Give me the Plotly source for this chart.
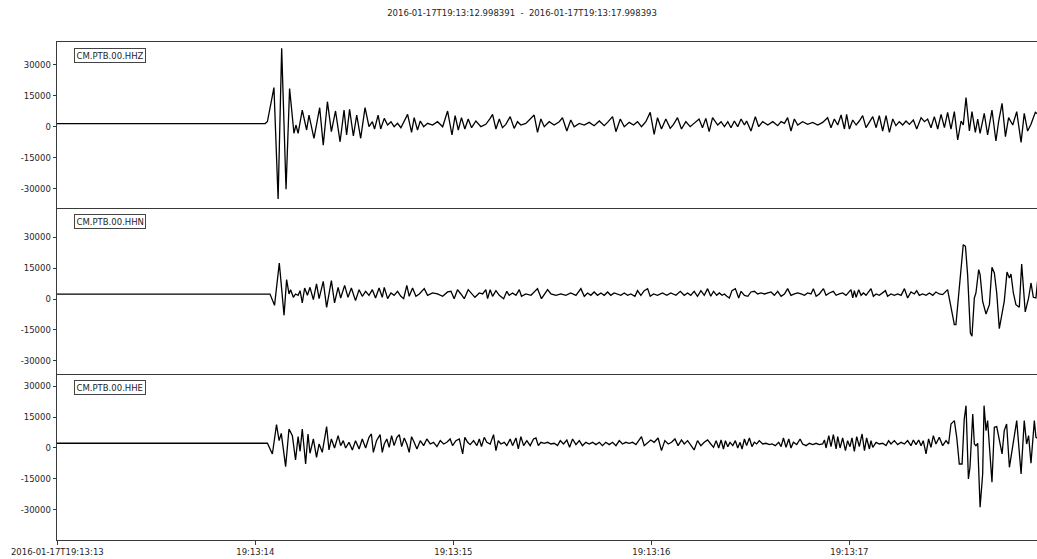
import plotly.graph_objects as go
from plotly.subplots import make_subplots

TITLE = "2016-01-17T19:13:12.998391  -  2016-01-17T19:13:17.998393"
channels = ["CM.PTB.00.HHZ", "CM.PTB.00.HHN", "CM.PTB.00.HHE"]

# time in ms after 2016-01-17T19:13:13, amplitude in counts
hhz_t_ms = [-2, 1050, 1061, 1094, 1115, 1133, 1155, 1173, 1195, 1205, 1216, 1237, 1259, 1271, 1296, 1325, 1343, 1364, 1384, 1405,
            1428, 1448, 1461, 1476, 1495, 1512, 1532, 1554, 1574, 1591, 1602, 1620, 1633,
            1651, 1668, 1685, 1701, 1718, 1735, 1752, 1769, 1789, 1802, 1819, 1833, 1850, 1870, 1895, 1920, 1946, 1971, 1993, 2009,
            2025, 2041, 2058, 2075, 2092, 2114, 2139, 2164, 2186, 2198, 2215, 2232, 2248, 2265, 2287, 2307, 2324, 2341, 2366, 2392,
            2408, 2425, 2442, 2459, 2484, 2509, 2535, 2551, 2573, 2593, 2610, 2636, 2661, 2686, 2711, 2737, 2762, 2782, 2804, 2821,
            2843, 2863, 2888, 2910, 2930, 2950, 2972, 2994, 3014, 3031, 3051, 3073, 3095, 3112, 3132, 3152, 3174, 3196, 3216, 3241,
            3258, 3275, 3292, 3309,
            3335, 3352, 3369, 3386, 3402, 3419, 3436,
            3453, 3470, 3481, 3503, 3525, 3542, 3562, 3588, 3613, 3638,
            3655, 3672, 3688, 3705, 3722, 3739, 3764, 3789, 3815, 3840,
            3865, 3890, 3907, 3924, 3941, 3958, 3975, 3986, 4000, 4017,
            4034, 4050, 4067, 4084, 4101, 4118, 4135, 4151, 4168, 4185,
            4202, 4219, 4235, 4252, 4269, 4286, 4303, 4323, 4340, 4362,
            4379, 4395, 4412, 4429, 4446, 4463, 4480, 4496, 4513, 4530,
            4547, 4564, 4575, 4589, 4606, 4619, 4636, 4648, 4660, 4681,
            4698, 4720, 4740, 4754, 4771, 4788, 4804, 4825, 4845, 4867,
            4883, 4900, 4917, 4939, 4998]
hhz_counts = [1500, 1500, 2500, 18900, -35000, 37900, -30300, 18500, -3200, 800, -3200, 8000, -1600, 5600, -5600, 9200, -8900, 12100, -2400, 7600,
              -7300, 8000, -4000, 8400, -4500, 5600, -5600, 9200, 0, 2400, -1100, 5600, -1100,
              4040, 810, 2430, 0, 1620, -480, 2430, 5980, -2730, 4360, -1600, 2750, 0, 1620, 810, 2430, 0, 7590, -4020, 5330,
              -1600, 4360, -1120, 3720, -480, 2750, 0, 1140, 4040, 5980, -1120, 3720, -480, 1140, 4850, -800, 2430, 810, 1620, 4040,
              5650, -2730, 3720, 0, 2430, 810, 2430, 4360, -2090, 3240, 0, 1620, 810, 2100, 490, 2750, 490, 2430, 4850, -2410,
              3720, 0, 2100, 810, 2430, 0, 2430, 6940, -3700, 4360, -1120, 3720, -800, 1140, 4360, -1120, 2430, 0, 1620, 3720,
              -480, 4040, -2410, 4360,
              810, 2430, 0, 2430, -480, 2750, 0,
              3720, 810, 2750, -2090, 4850, 0, 2430, 810, 2430, 490,
              2430, 1620, 4360, -2090, 3720, 810, 2430, 1140, 2100, 810,
              2100, 4360, -480, 3720, 810, 5650, -1120, 5980, -1120, 3240,
              810, 2750, 5330, -480, 2430, 4850, -480, 5330, -2090, 5330,
              -2730, 3720, 490, 2430, 810, 2750, 1140, 3240, -1120, 4360,
              2430, 3720, -480, 4850, -1120, 5980, -480, 6940, -1120, 7270,
              -6440, 2750, 810, 14040, -2090, 7270, -2730, 3720, -3220, 6460,
              -4020, 8070, -6930, 2750, 11300, -4830, 4360, 810, 7270, -7570,
              6460, -2090, 1140, 6940, 3000]

hhn_t_ms = [-2, 1074, 1097, 1121, 1145, 1158, 1170, 1178, 1192, 1203, 1216, 1226, 1237, 1249, 1263, 1276, 1293, 1309, 1322, 1343,
            1360, 1384, 1400, 1418, 1431, 1451, 1468, 1485, 1506, 1524, 1540, 1557, 1574, 1591, 1607, 1625, 1641,
            1651, 1668, 1685, 1701, 1718, 1735, 1749, 1765, 1777, 1794, 1811, 1828, 1853, 1870, 1895, 1920, 1946, 1971, 1988, 2004,
            2021, 2038, 2055, 2075, 2092, 2109, 2131, 2148, 2164, 2173, 2186, 2198, 2215, 2232, 2254, 2270, 2282, 2299, 2316, 2333,
            2344, 2366, 2392, 2408, 2425, 2445, 2459, 2476, 2493, 2518, 2543, 2568, 2593, 2619, 2644, 2661, 2678, 2694, 2711, 2728,
            2745, 2762, 2779, 2795, 2812, 2829, 2846, 2863, 2880, 2896, 2917, 2930, 2947, 2964, 2981, 2994, 3011, 3031, 3056, 3078,
            3098, 3124, 3146, 3166, 3183, 3199, 3216, 3233, 3250, 3267, 3284, 3300, 3314,
            3330, 3343, 3357, 3369, 3381, 3394,
            3407, 3424, 3441, 3453, 3470, 3487, 3503, 3520, 3537, 3554,
            3571, 3588, 3604, 3621, 3638, 3655, 3672, 3688, 3705, 3722,
            3739, 3756, 3773, 3789, 3806, 3818, 3832, 3848, 3869, 3882,
            3899, 3919, 3933, 3949, 3966, 3983, 4000, 4008, 4017, 4025,
            4034, 4047, 4059, 4071, 4084, 4097, 4109, 4121, 4135, 4151,
            4168, 4182, 4193, 4210, 4227, 4244, 4261, 4278, 4294, 4311,
            4328, 4340, 4353, 4370, 4387, 4404, 4421, 4437, 4454, 4471,
            4496, 4513, 4530, 4538, 4559, 4575, 4586, 4597, 4611, 4619,
            4631, 4639, 4653, 4660, 4673, 4690, 4707, 4720, 4732, 4744,
            4757, 4771, 4782, 4796, 4808, 4816, 4828, 4841, 4858, 4870,
            4878, 4888, 4905, 4917, 4929, 4942, 4951, 4998]
hhn_counts = [2400, 2400, -3060, 17430, -7900, 9370, 2430, 4520, 810, 2430, 1780, 4040, -1930, 5330, 1780, 5650, -320, 7270, 170, 8560,
              -4020, 8880, -1930, 5650, 490, 6620, 810, 5330, -800, 4520, 1300, 3720, 1780, 4520, 490, 5330, 810,
              5650, 170, 2910, 1780, 3720, 1300, 170, 6620, 1300, 5330, 1300, 2430, 5010, 1780, 2910, 2430, 1300, 3400, 3720, 170,
              4520, 2430, 170, 4520, 2430, 810, 2910, 2430, 4520, 170, 4520, 1300, 4040, 1780, 170, 3720, 1780, 2910, 1780, 4520,
              1300, 2430, 1780, 3400, 5010, 170, 2430, 4520, 2430, 1780, 2430, 1780, 2910, 1780, 5010, 1300, 2910, 1780, 3400, 1780,
              2910, 1780, 3400, 1780, 2910, 2430, 1780, 2910, 1780, 2430, 1300, 4040, 1780, 4040, 5010, 1300, 2430, 1780, 2910, 1780,
              2910, 1780, 3720, 1780, 2910, 1780, 3720, 1300, 4040, 1780, 5010, 1300, 3720,
              1780, 2910, 1780, 2430, 1300, 490,
              4040, 5010, 490, 3720, 1780, 1300, 3400, 3720, 2430, 2910,
              2430, 2910, 3400, 1780, 3720, 1300, 2430, 5010, 1780, 2430,
              2910, 2430, 1780, 2910, 2430, 5010, 1300, 2430, 5010, 1780,
              2910, 3720, 1780, 2430, 2910, 1780, 3400, 4520, 490, 4040,
              810, 4520, 1780, 2910, 1780, 3720, 5010, 1300, 2430, 1780,
              2910, 4040, 1300, 2430, 1780, 2430, 1780, 5010, 490, 3400,
              2430, 4040, 1780, 2430, 1780, 2910, 1780, 3400, 2430, 2100,
              4520, -4350, -12410, -12410, 8560, 26300, 25500, 11780, -16450, -18060,
              490, 2910, 14200, 11780, -1120, -7250, -2730, 15330, 12590, 2910,
              -14350, -6770, -1120, 13070, 10170, 12110, 2910, -2730, -4020, 16950,
              6940, -6280, 490, 7750, 810, 490, 9360, 5000]

hhe_t_ms = [-2, 1061, 1086, 1107, 1120, 1131, 1153, 1170, 1187, 1203, 1216, 1226, 1237, 1254, 1266, 1276, 1293, 1309, 1322, 1338,
            1360, 1372, 1384, 1400, 1418, 1431, 1444, 1456, 1473, 1490, 1506, 1524, 1540, 1557, 1574, 1586, 1596, 1612, 1630, 1641,
            1651, 1664, 1676, 1688, 1701, 1715, 1727, 1739, 1752, 1765, 1777, 1789, 1802, 1816, 1833, 1850, 1866, 1883, 1900, 1917,
            1934, 1951, 1967, 1984, 1996, 2013, 2030, 2047, 2058, 2072, 2085, 2102, 2119, 2131, 2142, 2156, 2169, 2186, 2203, 2215,
            2227, 2240, 2257, 2270, 2287, 2299, 2316, 2328, 2341, 2355, 2371, 2388, 2405, 2417, 2429, 2442, 2459, 2476, 2493, 2509,
            2526, 2540, 2556, 2573, 2587, 2602, 2619, 2636, 2652, 2669, 2686, 2703, 2720, 2737, 2753, 2770, 2787, 2804, 2821, 2838,
            2854, 2871, 2888, 2905, 2922, 2938, 2950, 2964, 2981, 2997, 3014, 3034, 3051, 3068, 3085, 3102, 3119, 3135, 3152, 3166,
            3183, 3199, 3216, 3233, 3250, 3267, 3284, 3300, 3314,
            3327, 3340, 3352, 3364, 3374, 3386,
            3397, 3411, 3424, 3436, 3448, 3458, 3470, 3481, 3495, 3508,
            3520, 3532, 3545, 3562, 3579, 3596, 3609, 3626, 3643, 3655,
            3667, 3680, 3694, 3705, 3717, 3734, 3751, 3764, 3781, 3798,
            3815, 3832, 3848, 3865, 3874, 3882, 3896, 3907, 3919, 3933,
            3941, 3953, 3966, 3980, 3991, 4003, 4013, 4025, 4037, 4050,
            4064, 4076, 4087, 4101, 4109, 4118, 4135, 4151, 4168, 4185,
            4198, 4210, 4227, 4244, 4261, 4278, 4294, 4311, 4323, 4336,
            4350, 4362, 4373, 4387, 4400, 4412, 4424, 4437, 4454, 4471,
            4488, 4501, 4513, 4530, 4542, 4555, 4569, 4580, 4589, 4601,
            4609, 4623, 4631, 4639, 4648, 4660, 4673, 4680, 4690, 4698,
            4720, 4732, 4744, 4757, 4771, 4782, 4794, 4808, 4828, 4845,
            4867, 4883, 4895, 4905, 4917, 4934, 4942, 4998]
hhe_counts = [2300, 2300, -2900, 11300, 3560, 7100, -9020, 9200, 6000, -5800, 5490, -1600, 9200, -7740, 6780, -2570, 4360, -4510, 1940, -2090,
              10330, -960, 4360, 0, 5980, 1140, 3560, 0, 2750, -960, 3560, -480, 4360, 0, 5170, 6780, -2090, 3560, 6460, -2090,
              1940, 4360, 330, 5980, 1140, 5170, 6460, 650, 4850, 1940, -2090, 5490, 2750, -480, 3560, 1140, 4360, 1940, 2750, 650,
              3560, 1940, 2750, 4360, 1140, 3560, 4360, -2900, 5170, 2750, 1620, 3560, 1140, 4360, 650, 5170, 2750, 1940, 6460, -1280,
              3560, 1940, 2750, 1140, 4360, 1140, 4850, -480, 5490, 1140, 3560, 1140, 4360, 4850, 1140, 2750, 2270, 2750, 1940, 2270,
              1140, 3560, 1940, 3880, 330, 4360, 1620, 3560, 1140, 2750, 1940, 2750, 1620, 2750, 1140, 2750, 1620, 2750, 1140, 3560,
              1940, 2750, 2270, 2750, 1620, 3560, 5490, 1140, 2750, 3880, 2750, 4850, -1280, 3560, 1940, 2750, 4360, 1140, 3880, 1940,
              3560, 1140, -960, 3560, 1140, 2750, 3880, 1940, 330,
              3560, 0, 3880, -480, 3560, 650,
              2750, 1140, 3560, 0, 2750, -480, 4360, 1140, 4850, 650,
              2750, 1940, 3560, 1940, 2270, 1620, 1940, 1140, 2750, 650,
              4850, 330, 4360, 0, 2750, 1620, 4360, 1940, 1140, 2270,
              1620, 2270, 1620, 1940, 3880, 0, 5980, 650, 6460, -480,
              5490, 0, 4850, -1280, 3560, 650, 4850, -1600, 5490, 650,
              6780, -1280, 4850, -480, 3560, 330, 2750, 1940, 2270, 1140,
              3560, 1940, 3560, 1620, 2750, 1940, 3560, 1140, 3880, 1620,
              3880, 1140, 3560, -2900, 4360, 330, 5980, 1940, 5170, 1140,
              3560, 1940, 11620, 13230, 5170, -7740, -7740, 14040, 20490, -15000,
              -9350, 16460, 1940, 1140, 2270, -28700, -12570, 20490, 8400, 13230,
              -16610, 10010, 10330, 3560, -2900, 8400, 11620, -9350, 3560, 13230,
              -12570, 13230, 1940, 5980, -7410, 13230, 5170, 2000]

traces_t = [hhz_t_ms, hhn_t_ms, hhe_t_ms]
traces_v = [hhz_counts, hhn_counts, hhe_counts]
y_ranges = [[-39350, 40990], [-36300, 44040], [-44530, 35810]]
y_ticks = [-30000, -15000, 0, 15000, 30000]
x_tick_sec = [0, 1, 2, 3, 4]
x_tick_text = ["2016-01-17T19:13:13", "19:13:14", "19:13:15", "19:13:16", "19:13:17"]

FONT = "DejaVu Sans"
TXT = "#262626"
SPINE = "#3a3a3a"
FS = 8.5

fig = make_subplots(rows=3, cols=1, shared_xaxes=True, vertical_spacing=0)
for i in range(3):
    pairs = sorted(zip(traces_t[i], traces_v[i]))
    xs = [p[0] / 1000.0 for p in pairs]
    ys = [p[1] for p in pairs]
    fig.add_trace(go.Scatter(x=xs, y=ys, mode="lines",
                             line=dict(color="black", width=1.3),
                             showlegend=False, hoverinfo="skip"), row=i + 1, col=1)
    fig.update_yaxes(range=y_ranges[i], tickvals=y_ticks, ticktext=[str(v) for v in y_ticks],
                     showgrid=False, zeroline=False, showline=True, mirror=True,
                     linecolor=SPINE, linewidth=1, ticks="outside", ticklen=3.5,
                     tickcolor=SPINE, tickfont=dict(family=FONT, size=FS, color=TXT),
                     row=i + 1, col=1)
    fig.update_xaxes(range=[-0.0016, 4.9474], showgrid=False, zeroline=False, showline=True,
                     mirror=(i == 0), linecolor=SPINE, linewidth=1,
                     row=i + 1, col=1)
    xr = "x domain" if i == 0 else f"x{i + 1} domain"
    yr = "y domain" if i == 0 else f"y{i + 1} domain"
    fig.add_annotation(text=channels[i], xref=xr, yref=yr, x=0.017, y=0.962,
                       xanchor="left", yanchor="top", showarrow=False,
                       font=dict(family=FONT, size=FS, color=TXT),
                       bordercolor="#444444", borderwidth=1, borderpad=1.5, bgcolor="white")

fig.update_xaxes(tickvals=x_tick_sec, ticktext=x_tick_text, ticks="outside", ticklen=3.5,
                 tickcolor=SPINE, tickfont=dict(family=FONT, size=FS, color=TXT), row=3, col=1)
fig.update_xaxes(showticklabels=False, row=1, col=1)
fig.update_xaxes(showticklabels=False, row=2, col=1)

fig.update_layout(
    width=1037, height=559,
    margin=dict(l=57, r=0, t=42, b=19),
    paper_bgcolor="white", plot_bgcolor="white",
    title=dict(text=TITLE, x=0.5034, xref="container", xanchor="center",
               y=1 - 13 / 559, yref="container", yanchor="middle",
               font=dict(family=FONT, size=FS, color=TXT)),
)
fig.write_html("out.html")
